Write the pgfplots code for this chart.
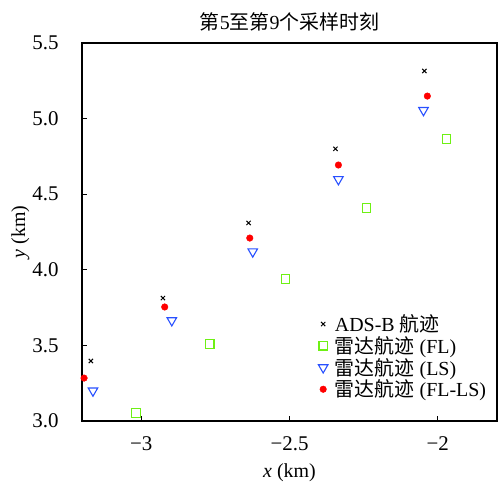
\documentclass[border=0pt]{standalone}
\usepackage{fontspec}
\setmainfont{Liberation Serif}
\newfontfamily\cjk{Noto Sans CJK SC}
\usepackage{pgfplots}
\pgfplotsset{compat=1.18}
\definecolor{lgreen}{RGB}{110,240,20}
\definecolor{mblue}{RGB}{40,80,255}
\begin{document}
\begin{tikzpicture}[x=1bp,y=1bp]
\begin{axis}[
  scale only axis, width=415bp, height=378bp,
  xmin=-3.2, xmax=-1.8, ymin=3.0, ymax=5.5,
  axis line style={line width=1.2bp},
  tick align=inside, xtick pos=left, ytick pos=left,
  major tick length=5bp, tick style={line width=1bp, black},
  xtick={-3,-2.5,-2}, xticklabels={−3,−2.5,−2},
  ytick={3,3.5,4,4.5,5,5.5}, yticklabels={3.0,3.5,4.0,4.5,5.0,5.5},
  ticklabel style={font=\fontsize{21}{25}\selectfont},
  xticklabel style={yshift=-12bp},
  yticklabel style={xshift=-20bp},
  xlabel={\textit{x} (km)}, ylabel={\textit{y} (km)},
  label style={font=\fontsize{20}{24}\selectfont},
  xlabel style={yshift=-6bp},
  ylabel style={yshift=-4bp},
  title={{\cjk 第}5{\cjk 至第}9{\cjk 个采样时刻}},
  title style={font=\fontsize{20}{24}\selectfont, yshift=2bp},
  legend style={draw=none, fill=none, font=\fontsize{20}{24}\selectfont,
    at={(0.562,0.292)}, anchor=north west, row sep=-0.7bp,
    legend cell align=left, nodes={inner xsep=7bp}},
  clip=false,
]
\addplot[only marks, mark=x, mark size=3bp, black, line width=1bp] coordinates {
 (-3.170,3.397) (-2.927,3.813) (-2.638,4.310) (-2.345,4.800) (-2.045,5.315)};
\addlegendentry{ADS-B {\cjk 航迹}}
\addplot[only marks, mark=square, mark size=4.2bp, lgreen, line width=1.1bp] coordinates {
 (-3.018,3.053) (-2.769,3.509) (-2.513,3.939) (-2.240,4.409) (-1.971,4.865)};
\addlegendentry{{\cjk 雷达航迹} (FL)}
\addplot[only marks, mark=triangle, mark options={rotate=180}, mark size=5.5bp, mblue, line width=1.1bp] coordinates {
 (-3.163,3.200) (-2.897,3.665) (-2.624,4.120) (-2.335,4.598) (-2.048,5.055)};
\addlegendentry{{\cjk 雷达航迹} (LS)}
\addplot[only marks, mark=*, mark size=3.3bp, red, draw=none, fill=red] coordinates {
 (-3.193,3.284) (-2.921,3.754) (-2.634,4.210) (-2.335,4.693) (-2.035,5.149)};
\addlegendentry{{\cjk 雷达航迹} (FL-LS)}
\end{axis}
\pgfresetboundingbox
\path ([xshift=-82bp,yshift=-62bp]current axis.south west) rectangle ([xshift=1bp,yshift=43bp]current axis.north east);
\end{tikzpicture}
\end{document}
